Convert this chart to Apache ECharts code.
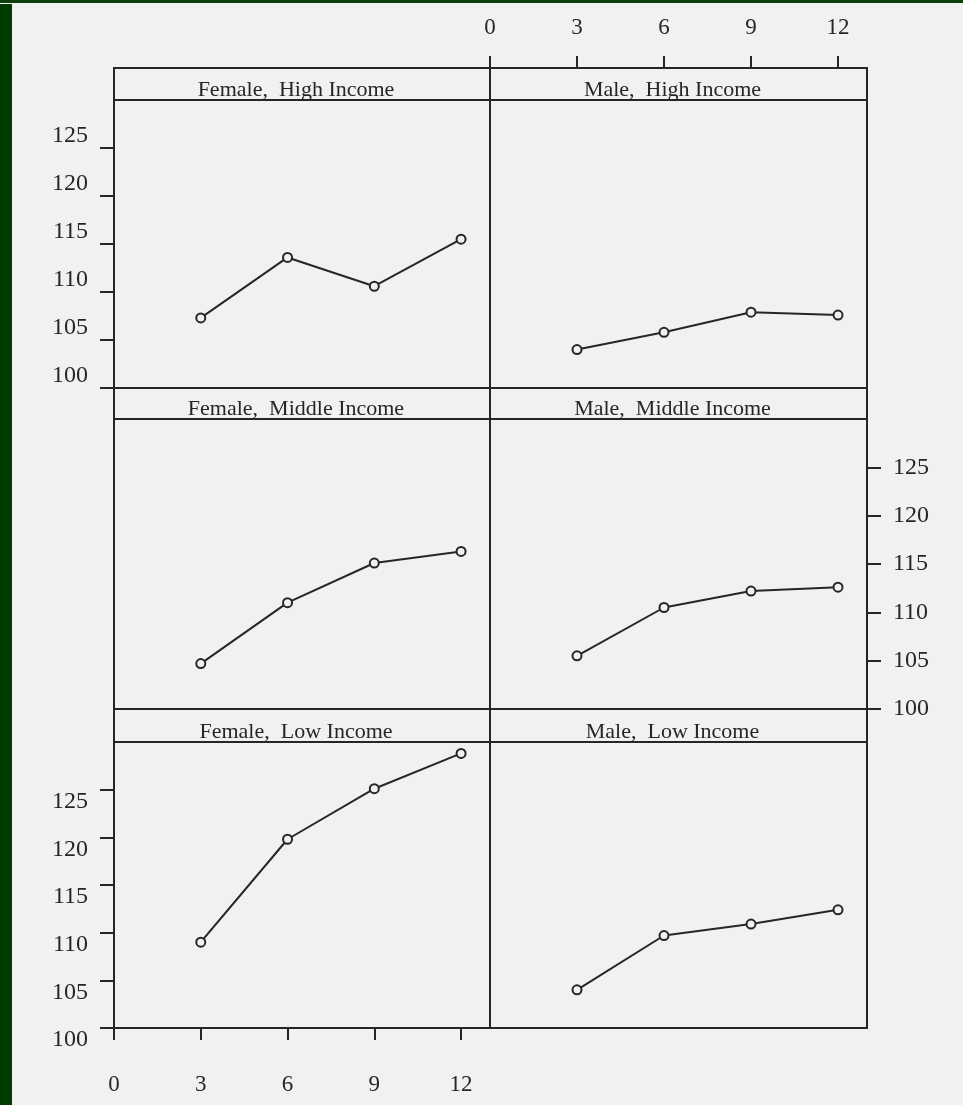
<!DOCTYPE html>
<html>
<head>
<meta charset="utf-8">
<script src="https://cdn.jsdelivr.net/npm/echarts@6/dist/echarts.min.js"></script>
<style>
  body { margin: 0; background: #f1f1ef; }
  #edge { position: absolute; left: 0; top: 0; width: 963px; height: 3px; background: #0b3f0b; }
  #side { position: absolute; left: 0; top: 4px; width: 12px; height: 1101px; background: #003c00; }
  #chart { position: absolute; left: 0; top: 0; width: 963px; height: 1105px; }
</style>
</head>
<body>
<div id="chart"></div>
<div id="edge"></div>
<div id="side"></div>
<script>
// months after start
var months = [3, 6, 9, 12];
var femaleHigh = [107.3, 113.6, 110.6, 115.5];
var maleHigh = [104.0, 105.8, 107.9, 107.6];
var femaleMiddle = [104.7, 111.0, 115.1, 116.3];
var maleMiddle = [105.5, 110.5, 112.2, 112.6];
var femaleLow = [109.0, 119.8, 125.1, 128.8];
var maleLow = [104.0, 109.7, 110.9, 112.4];
var xTicks = [0, 3, 6, 9, 12];
var yTicks = [100, 105, 110, 115, 120, 125];

var ink = '#262626';
var font = '"Liberation Serif", "DejaVu Serif", serif';

// panel layout
var colX = [114, 490];
var colW = [376, 377];
var rowStrip = [68, 388, 709];
var rowTop = [100, 419, 742];
var rowH = [288, 290, 286];

var panels = [
  {name: 'Female,  High Income', col: 0, row: 0, data: femaleHigh, yLab: 'left', yAlign: 'bottom'},
  {name: 'Male,  High Income', col: 1, row: 0, data: maleHigh, xLab: 'top'},
  {name: 'Female,  Middle Income', col: 0, row: 1, data: femaleMiddle},
  {name: 'Male,  Middle Income', col: 1, row: 1, data: maleMiddle, yLab: 'right', yAlign: 'middle'},
  {name: 'Female,  Low Income', col: 0, row: 2, data: femaleLow, yLab: 'left', yAlign: 'top', xLab: 'bottom'},
  {name: 'Male,  Low Income', col: 1, row: 2, data: maleLow}
];

var grids = [], xAxes = [], yAxes = [], series = [], graphics = [];

panels.forEach(function (p, i) {
  grids.push({
    left: colX[p.col], top: rowTop[p.row], width: colW[p.col], height: rowH[p.row],
    show: true, borderColor: ink, borderWidth: 2, backgroundColor: 'transparent'
  });

  var xs = !!p.xLab;
  xAxes.push({
    type: 'value', gridIndex: i, min: 0, max: 13,
    position: p.xLab === 'top' ? 'top' : 'bottom',
    offset: p.xLab === 'top' ? rowTop[p.row] - rowStrip[p.row] : 0,
    splitLine: {show: false},
    axisLine: {show: xs, onZero: false, lineStyle: {color: ink, width: 2}},
    axisTick: {show: xs, length: 12, customValues: xTicks, lineStyle: {color: ink, width: 2}},
    axisLabel: {show: xs, customValues: xTicks, margin: p.xLab === 'top' ? 29 : 45,
      color: ink, fontFamily: font, fontSize: 23}
  });

  var ys = !!p.yLab;
  yAxes.push({
    type: 'value', gridIndex: i, min: 100, max: 130,
    position: p.yLab === 'right' ? 'right' : 'left',
    splitLine: {show: false},
    axisLine: {show: ys, onZero: false, lineStyle: {color: ink, width: 2}},
    axisTick: {show: ys, length: 14, customValues: yTicks, lineStyle: {color: ink, width: 2}},
    axisLabel: {show: ys, customValues: yTicks, margin: 26, verticalAlign: p.yAlign,
      color: ink, fontFamily: font, fontSize: 24}
  });

  series.push({
    type: 'line', xAxisIndex: i, yAxisIndex: i,
    data: months.map(function (m, k) { return [m, p.data[k]]; }),
    symbol: 'circle', symbolSize: 9,
    lineStyle: {color: ink, width: 2},
    itemStyle: {color: '#f1f1ef', borderColor: ink, borderWidth: 2},
    emphasis: {disabled: true}
  });

  // strip header
  graphics.push({
    type: 'rect',
    shape: {x: colX[p.col], y: rowStrip[p.row], width: colW[p.col], height: rowTop[p.row] - rowStrip[p.row]},
    style: {fill: 'transparent', stroke: ink, lineWidth: 2}
  });
  graphics.push({
    type: 'text',
    x: colX[p.col] + colW[p.col] / 2 - 6,
    y: rowTop[p.row] + 1,
    style: {text: p.name, fill: ink, font: '22px ' + font, align: 'center', verticalAlign: 'bottom'}
  });
});

var chart = echarts.init(document.getElementById('chart'));
chart.setOption({
  backgroundColor: '#f1f1ef',
  animation: false,
  grid: grids,
  xAxis: xAxes,
  yAxis: yAxes,
  series: series,
  graphic: graphics
});
</script>
</body>
</html>
